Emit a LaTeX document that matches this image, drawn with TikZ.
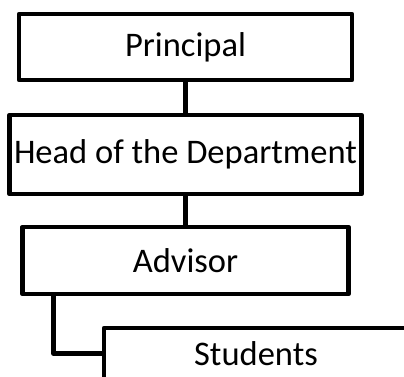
\documentclass[tikz,border=0pt]{standalone}
\usepackage{fontspec}
\setmainfont{Carlito}
\usetikzlibrary{positioning}
\usetikzlibrary{calc}

\begin{document}
\begin{tikzpicture}[x=1pt,y=-1pt,line width=4.8pt,line join=round]
        \tikzstyle{post}=[draw=black,rectangle,inner sep=2pt,font=\fontsize{34.5}{40}\selectfont]
        \tikzstyle{top post}=[post, minimum width=333pt, minimum height=66pt];
        \tikzstyle{head post}=[post, minimum width=351.5pt, minimum height=79pt];
        \tikzstyle{advisor post}=[post, minimum width=326pt, minimum height=67pt];
        \tikzstyle{student post}=[post, minimum width=304pt, minimum height=51pt];

        \path[use as bounding box, clip] (0,0) rectangle (404,377);

        % Draw the posts
        \node[top post] (P) at (185.5,47) {Principal};
        \node[head post] (H) at (185.5,154.5) {Head of the Department};
        \node[advisor post] (A) at (185.5,260.5) {Advisor};
        \node[student post] (S) at (256,353.5) {Students};

        % Connect the posts
        \draw (P) -- (H);
        \draw (H) -- (A);
        \draw ([xshift=33.5pt]A.south west) |- (S.west);
\end{tikzpicture}
\end{document}
